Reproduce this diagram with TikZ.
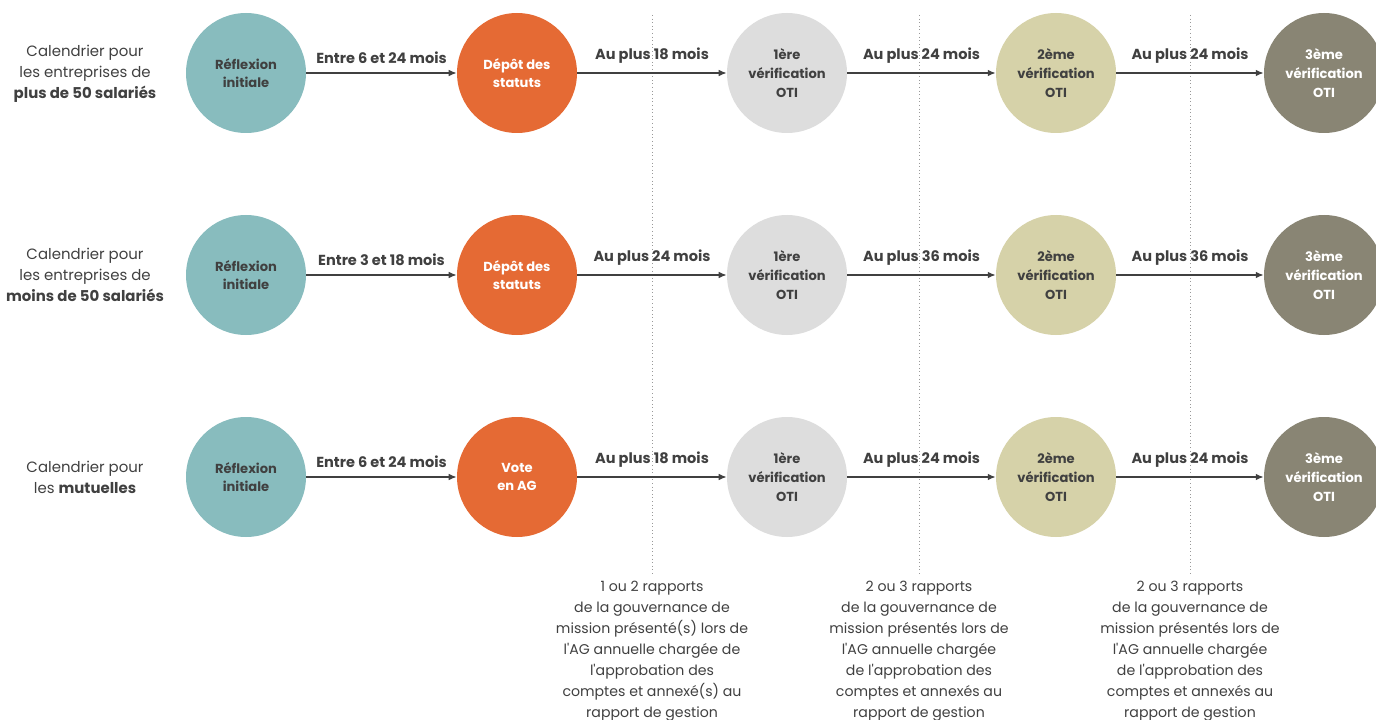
\documentclass[tikz,border=0pt]{standalone}
\usepackage{fontspec}
\setmainfont{Poppins}[Ligatures=TeXOff]
\usetikzlibrary{arrows.meta,positioning}
\definecolor{tealc}{HTML}{88BCBE}
\definecolor{orangec}{HTML}{E56A34}
\definecolor{greyc}{HTML}{DDDDDD}
\definecolor{khakic}{HTML}{D6D2A9}
\definecolor{olivec}{HTML}{898574}
\definecolor{inkc}{HTML}{404040}
\begin{document}
\begin{tikzpicture}[x=0.75pt,y=-0.75pt,
      stage/.style={circle,minimum size=90pt,inner sep=0pt,align=center,text=inkc,font=\bfseries\fontsize{9.8}{14}\selectfont},
      arr/.style={-{Latex[length=6pt,width=5pt]},line width=1.1pt,draw=inkc},
      lab/.style={midway,above=3pt,text=inkc,font=\bfseries\fontsize{10.9}{13}\selectfont},
      cal/.style={align=center,text=inkc,font=\fontsize{11.2}{15.75}\selectfont},
      note/.style={align=center,anchor=north,text=inkc,font=\fontsize{10.6}{15.75}\selectfont},
      sep/.style={draw=gray!80,dotted,line width=0.7pt}
    ]
      \useasboundingbox (0,0) rectangle (1376,720);
      % separators and notes
      \node[note] (note1) at (652,576) {1 ou 2 rapports\\de la gouvernance de\\mission présenté(s) lors de\\l'AG annuelle chargée de\\l'approbation des\\comptes et annexé(s) au\\rapport de gestion};
      \node[note] (note2) at (919,576) {2 ou 3 rapports\\de la gouvernance de\\mission présentés lors de\\l'AG annuelle chargée\\de l'approbation des\\comptes et annexés au\\rapport de gestion};
      \node[note] (note3) at (1190,576) {2 ou 3 rapports\\de la gouvernance de\\mission présentés lors de\\l'AG annuelle chargée\\de l'approbation des\\comptes et annexés au\\rapport de gestion};
      \coordinate (top1) at (652,15);
      \coordinate (top2) at (919,15);
      \coordinate (top3) at (1190,15);
      \draw[sep] (top1) -- (note1.north);
      \draw[sep] (top2) -- (note2.north);
      \draw[sep] (top3) -- (note3.north);
      % row 1
      \node[cal] (cal1) at (85,74) {Calendrier pour\\les entreprises de\\\textbf{plus de 50 salariés}};
      \node[stage,fill=tealc] (ref1) at (246,73) {Réflexion\\initiale};
      \node[stage,fill=orangec,text=white] (dep1) at (517,73) {Dépôt des\\statuts};
      \node[stage,fill=greyc] (ver1a) at (787,73) {1ère\\vérification\\OTI};
      \node[stage,fill=khakic] (ver1b) at (1056,73) {2ème\\vérification\\OTI};
      \node[stage,fill=olivec,text=white] (ver1c) at (1324,73) {3ème\\vérification\\OTI};
      \draw[arr] (ref1) -- node[lab] {Entre 6 et 24 mois} (dep1);
      \draw[arr] (dep1) -- node[lab] {Au plus 18 mois} (ver1a);
      \draw[arr] (ver1a) -- node[lab] {Au plus 24 mois} (ver1b);
      \draw[arr] (ver1b) -- node[lab] {Au plus 24 mois} (ver1c);
      % row 2
      \node[cal] (cal2) at (85,275) {Calendrier pour\\les entreprises de\\\textbf{moins de 50 salariés}};
      \node[stage,fill=tealc] (ref2) at (246,275) {Réflexion\\initiale};
      \node[stage,fill=orangec,text=white] (dep2) at (517,275) {Dépôt des\\statuts};
      \node[stage,fill=greyc] (ver2a) at (787,275) {1ère\\vérification\\OTI};
      \node[stage,fill=khakic] (ver2b) at (1056,275) {2ème\\vérification\\OTI};
      \node[stage,fill=olivec,text=white] (ver2c) at (1324,275) {3ème\\vérification\\OTI};
      \draw[arr] (ref2) -- node[lab] {Entre 3 et 18 mois} (dep2);
      \draw[arr] (dep2) -- node[lab] {Au plus 24 mois} (ver2a);
      \draw[arr] (ver2a) -- node[lab] {Au plus 36 mois} (ver2b);
      \draw[arr] (ver2b) -- node[lab] {Au plus 36 mois} (ver2c);
      % row 3
      \node[cal] (cal3) at (85,477) {Calendrier pour\\les \textbf{mutuelles}};
      \node[stage,fill=tealc] (ref3) at (246,477) {Réflexion\\initiale};
      \node[stage,fill=orangec,text=white] (vote3) at (517,477) {Vote\\en AG};
      \node[stage,fill=greyc] (ver3a) at (787,477) {1ère\\vérification\\OTI};
      \node[stage,fill=khakic] (ver3b) at (1056,477) {2ème\\vérification\\OTI};
      \node[stage,fill=olivec,text=white] (ver3c) at (1324,477) {3ème\\vérification\\OTI};
      \draw[arr] (ref3) -- node[lab] {Entre 6 et 24 mois} (vote3);
      \draw[arr] (vote3) -- node[lab] {Au plus 18 mois} (ver3a);
      \draw[arr] (ver3a) -- node[lab] {Au plus 24 mois} (ver3b);
      \draw[arr] (ver3b) -- node[lab] {Au plus 24 mois} (ver3c);
    \end{tikzpicture}
\end{document}
